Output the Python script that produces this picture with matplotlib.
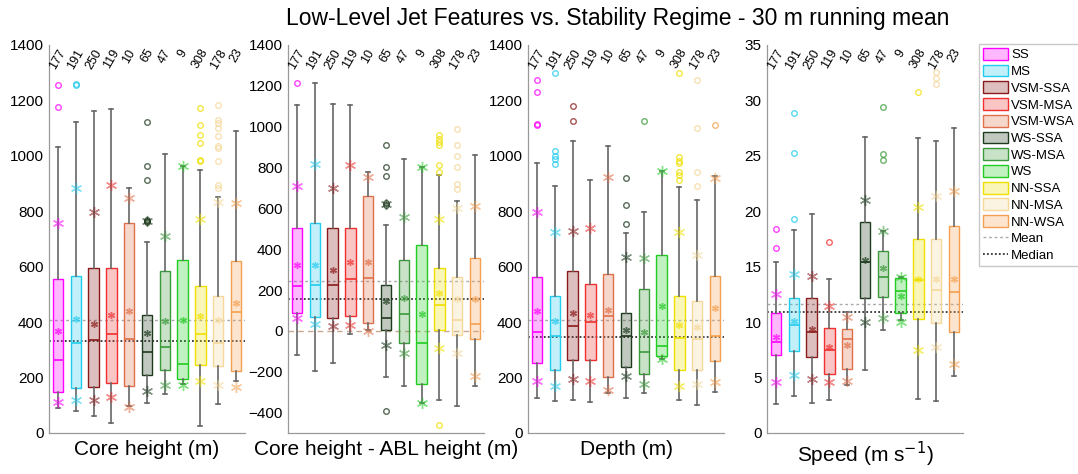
import numpy as np
import matplotlib
matplotlib.use('Agg')
import matplotlib.pyplot as plt
from matplotlib.patches import Patch
from matplotlib.lines import Line2D

plt.rcParams['font.family'] = ['Liberation Sans', 'DejaVu Sans']

groups = ['SS', 'MS', 'VSM-SSA', 'VSM-MSA', 'VSM-WSA', 'WS-SSA', 'WS-MSA', 'WS',
          'NN-SSA', 'NN-MSA', 'NN-WSA']
counts = [177, 191, 250, 119, 10, 65, 47, 9, 308, 178, 23]
edge_colors = ['#FF00FF', '#22CCEE', '#8B1A1A', '#F03030', '#E0704A', '#1E3B1E',
               '#3A9A3A', '#22CC22', '#F0E000', '#F5D89A', '#F5A050']

# Core height (m)
core_whislo = [92, 78, 60, 36, 96, 108, 141, 178, 26, 105, 186]
core_q1 = [147, 162, 165, 180, 168, 210, 228, 195, 246, 243, 222]
core_med = [264, 324, 336, 357, 339, 291, 312, 249, 358, 324, 436]
core_q3 = [556, 565, 595, 597, 759, 424, 586, 625, 529, 496, 621]
core_whishi = [1033, 1121, 1162, 1169, 883, 689, 1006, 964, 949, 853, 1088]
core_mean = [369, 410, 392, 424, 439, 362, 403, 409, 421, 409, 469]
core_p5 = [112, 118, 120, 130, 94, 150, 172, 175, 186, 175, 165]
core_p95 = [757, 883, 799, 895, 847, 765, 711, 964, 773, 833, 829]
core_fliers = [[1256, 1175], [1256, 1258], [], [], [], [1121, 964, 913, 768, 762, 765], [], [],
               [1172, 1112, 1076, 1048, 985, 983], [1184, 1130, 1118, 1100, 1072, 1036, 1027, 983, 895, 883], []]
core_ref = (406, 333)

# Core height - ABL height (m)
abl_whislo = [-116, -195, -157, -15, 5, -228, -272, -354, -338, -366, -269]
abl_q1 = [89, 67, 61, 72, 39, 2, -59, -259, 2, -18, -38]
abl_med = [220, 225, 223, 252, 261, 64, 84, -59, 129, 51, 34]
abl_q3 = [503, 528, 502, 502, 659, 223, 346, 421, 310, 264, 356]
abl_whishi = [1104, 1214, 1110, 1105, 780, 520, 842, 801, 763, 638, 859]
abl_mean = [321, 323, 297, 338, 339, 146, 162, 84, 184, 154, 154]
abl_p5 = [61, 34, 26, 31, -2, -67, -108, -354, -84, -108, -220]
abl_p95 = [711, 818, 698, 810, 752, 621, 559, 801, 547, 600, 613]
abl_fliers = [[1214], [], [], [], [], [908, 805, 760, 625, 615, -392], [], [],
              [958, 940, 924, 910, 810, 777, -461], [990, 908, 854, 801, 720, 695], []]
abl_ref = (244, 154)

# Depth (m)
depth_whislo = [126, 114, 118, 111, 144, 126, 144, 267, 120, 102, 147]
depth_q1 = [252, 226, 264, 264, 201, 237, 213, 279, 228, 226, 258]
depth_med = [363, 351, 387, 400, 421, 351, 291, 315, 342, 339, 349]
depth_q3 = [562, 496, 586, 538, 574, 433, 520, 641, 495, 475, 565]
depth_whishi = [976, 893, 1054, 913, 1036, 722, 797, 947, 889, 841, 929]
depth_mean = [441, 405, 433, 427, 445, 373, 364, 459, 388, 381, 451]
depth_p5 = [186, 171, 195, 186, 156, 207, 178, 267, 171, 178, 183]
depth_p95 = [799, 727, 729, 739, 922, 634, 633, 947, 725, 643, 919]
depth_fliers = [[1274, 1229, 1114, 1112], [1298, 1018, 1000, 988, 970], [1180, 1127], [], [],
                [919, 821, 755], [1124], [], [1298, 997, 983, 976, 943, 931, 913],
                [1274, 1100, 943, 892], [1112]]
depth_ref = (406, 346)

# Speed (m s-1)
speed_whislo = [2.6, 3.3, 2.7, 3.0, 4.3, 5.7, 9.3, 10.2, 3.1, 2.9, 5.1]
speed_q1 = [7.0, 7.4, 6.9, 5.3, 5.8, 12.2, 12.3, 10.8, 10.3, 9.9, 9.1]
speed_med = [8.2, 9.7, 9.1, 7.5, 8.5, 15.4, 14.1, 12.8, 13.8, 12.9, 12.7]
speed_q3 = [10.8, 12.2, 12.2, 9.5, 9.4, 19.0, 16.4, 14.0, 17.5, 17.5, 18.7]
speed_whishi = [15.4, 18.3, 19.8, 13.9, 10.9, 26.7, 18.2, 14.1, 26.6, 26.3, 27.5]
speed_mean = [8.7, 10.1, 9.4, 7.8, 7.9, 15.6, 14.9, 12.4, 13.9, 13.9, 13.9]
speed_p5 = [4.6, 5.2, 4.9, 4.6, 4.7, 10.0, 10.4, 10.0, 7.5, 7.8, 6.2]
speed_p95 = [12.5, 14.3, 14.2, 11.5, 10.5, 21.0, 18.2, 14.1, 20.4, 21.4, 21.8]
speed_fliers = [[18.4, 16.7], [28.9, 25.3, 19.3], [], [17.2], [], [], [29.4, 25.2, 24.6], [],
                [30.8], [32.6, 32.0, 31.5], []]
speed_ref = (11.6, 10.9)

panels = [
    ('Core height (m)', (0, 1400), np.arange(0, 1401, 200),
     core_whislo, core_q1, core_med, core_q3, core_whishi, core_mean, core_p5, core_p95, core_fliers, core_ref),
    ('Core height - ABL height (m)', (-500, 1400), np.arange(-400, 1401, 200),
     abl_whislo, abl_q1, abl_med, abl_q3, abl_whishi, abl_mean, abl_p5, abl_p95, abl_fliers, abl_ref),
    ('Depth (m)', (0, 1400), np.arange(0, 1401, 200),
     depth_whislo, depth_q1, depth_med, depth_q3, depth_whishi, depth_mean, depth_p5, depth_p95, depth_fliers, depth_ref),
    ('Speed (m s$^{-1}$)', (0, 35), np.arange(0, 36, 5),
     speed_whislo, speed_q1, speed_med, speed_q3, speed_whishi, speed_mean, speed_p5, speed_p95, speed_fliers, speed_ref),
]

fig = plt.figure(figsize=(10.78, 4.74), dpi=100)
lefts = [49, 288, 528, 767]
asterisk = (6, 2, 0)
pos = np.arange(1, 12)

for (label, ylim, yticks, wl, q1, med, q3, wh, mean, p5, p95, fl, ref), lx in zip(panels, lefts):
    ax = fig.add_axes([lx / 1078, 1 - 433 / 474, 196 / 1078, 388 / 474])
    stats = []
    for i in range(11):
        stats.append(dict(whislo=wl[i], q1=q1[i], med=med[i], q3=q3[i], whishi=wh[i], fliers=fl[i]))
    bp = ax.bxp(stats, positions=pos, widths=0.58, patch_artist=True, showfliers=True,
                whiskerprops=dict(color='#666666', lw=1.2),
                capprops=dict(color='#666666', lw=1.2), capwidths=0.22)
    for i, c in enumerate(edge_colors):
        bp['boxes'][i].set_facecolor(matplotlib.colors.to_rgba(c, 0.28))
        bp['boxes'][i].set_edgecolor(c)
        bp['boxes'][i].set_linewidth(1.0)
        bp['medians'][i].set_color(c)
        bp['medians'][i].set_linewidth(1.2)
        bp['fliers'][i].set(marker='o', markersize=4, markerfacecolor='none',
                            markeredgecolor=matplotlib.colors.to_rgba(c, 0.75), markeredgewidth=1.0)
        ax.plot(pos[i], mean[i], marker=asterisk, ms=5, color=c, alpha=0.7, mew=1.0, zorder=4)
        ax.plot([pos[i], pos[i]], [p5[i], p95[i]], ls='none', marker=asterisk, ms=8, color=c,
                alpha=0.55, mew=1.0, zorder=4)

    ax.axhline(ref[0], color='#AAAAAA', ls=(0, (2, 2)), lw=1.0, zorder=1)
    ax.axhline(ref[1], color='#333333', ls=(0, (1, 1.2)), lw=1.3, zorder=1)
    if ylim[0] < 0:
        ax.axhline(0, color='#C8A890', ls=(0, (4, 3)), lw=1.0, zorder=1)

    for i, n in enumerate(counts):
        ax.text(pos[i], 0.995, str(n), transform=ax.get_xaxis_transform(), rotation=60,
                ha='center', va='top', fontsize=9, rotation_mode='default')

    ax.set_xlim(0.5, 11.5)
    ax.set_ylim(*ylim)
    ax.set_yticks(yticks)
    ax.set_xticks([])
    ax.tick_params(axis='y', labelsize=11, length=0, pad=4)
    for s in ['top', 'right']:
        ax.spines[s].set_visible(False)
    for s in ['left', 'bottom']:
        ax.spines[s].set_color('#999999')
        ax.spines[s].set_linewidth(0.9)
    ax.set_xlabel(label, fontsize=15, labelpad=5)

fig.text(618 / 1078, 1 - 18 / 474, 'Low-Level Jet Features vs. Stability Regime - 30 m running mean',
         ha='center', va='center', fontsize=16.5)

handles = [Patch(facecolor=matplotlib.colors.to_rgba(c, 0.28), edgecolor=c, lw=1.0) for c in edge_colors]
handles += [Line2D([], [], color='#AAAAAA', ls=(0, (2, 2)), lw=1.0),
            Line2D([], [], color='#333333', ls=(0, (1, 1.2)), lw=1.3)]
fig.legend(handles, groups + ['Mean', 'Median'], loc='upper left',
           bbox_to_anchor=(979 / 1078, 1 - 44 / 474), fontsize=9.5, frameon=True, fancybox=False,
           edgecolor='#BBBBBB', labelspacing=0.25, handlelength=1.9, handleheight=1.0,
           handletextpad=0.25, borderpad=0.3, borderaxespad=0)

fig.savefig('out.png', dpi=100)
